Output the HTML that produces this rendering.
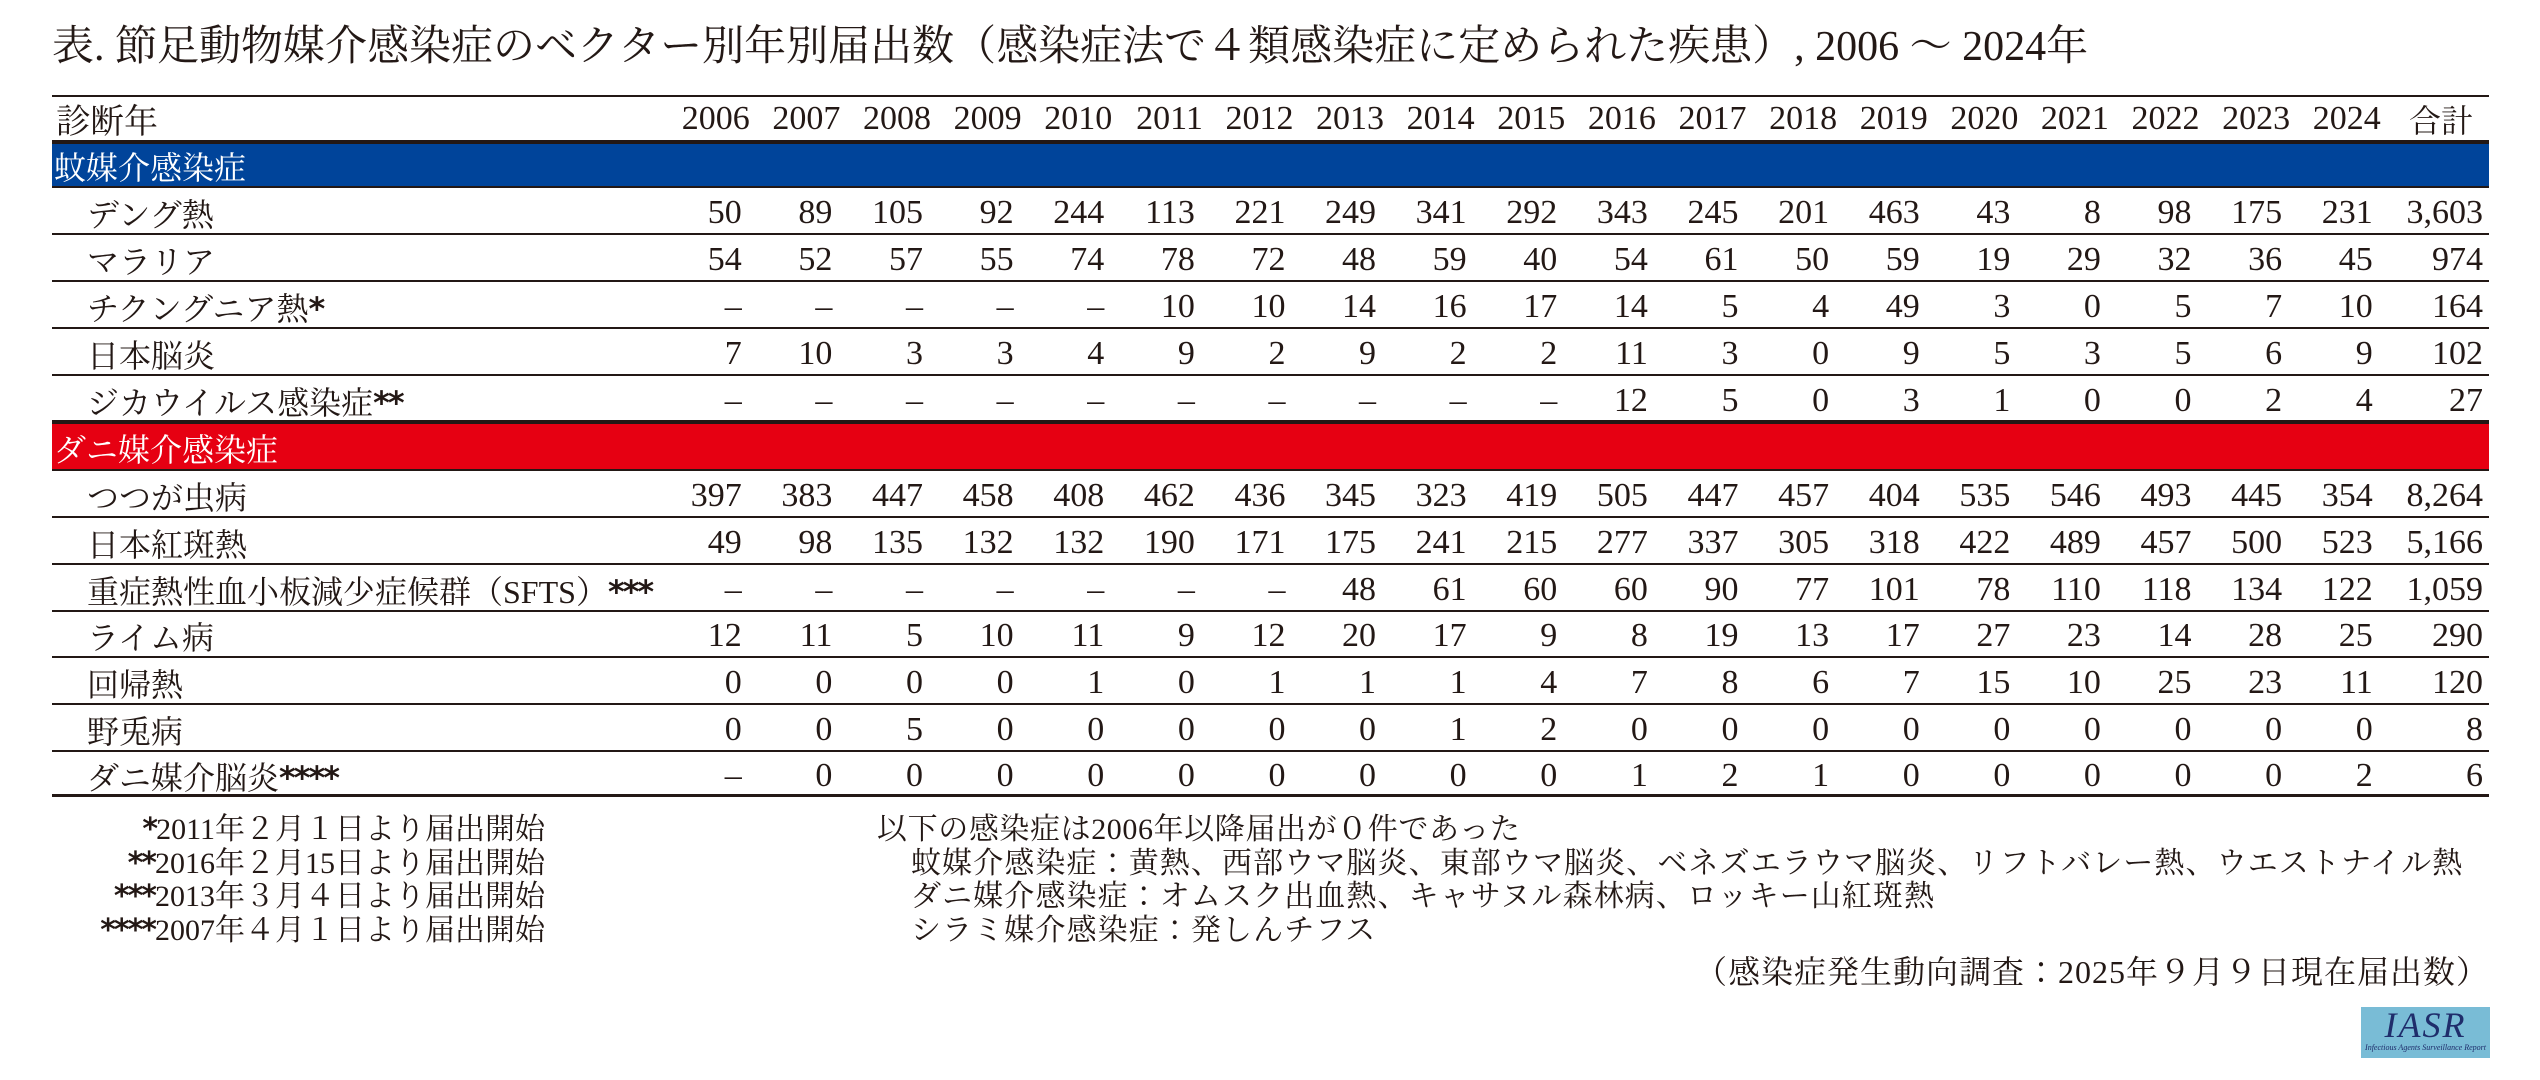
<!DOCTYPE html>
<html><head><meta charset="utf-8">
<style>
html,body{margin:0;padding:0;background:#fff;}
body{width:2540px;height:1080px;position:relative;overflow:hidden;color:#231815;
font-family:"Liberation Serif","Noto Serif CJK JP","Noto Serif CJK SC",serif;}
.title{position:absolute;left:52px;top:21px;font-size:42px;line-height:52px;white-space:nowrap;}
.ln{position:absolute;left:52px;width:2437px;background:#231815;}
.band{position:absolute;left:52px;width:2437px;}
table{position:absolute;left:52px;top:94px;border-collapse:collapse;table-layout:fixed;width:2437px;}
td{padding:0;font-size:34px;text-align:right;white-space:nowrap;overflow:visible;}
td.l{text-align:left;padding-left:35px;font-size:32px;}
td.b{text-align:left;color:#fff;font-size:32px;padding-left:2px;}
tr.h td{font-size:34px;}
tr.h td.y span{position:relative;left:8px;}
td.t{padding-right:6px;}
.fn{position:absolute;font-size:30px;line-height:33.5px;white-space:nowrap;}
.a{font-family:"DejaVu Sans",sans-serif;font-weight:bold;font-size:1.0em;letter-spacing:-2px;}
</style></head><body>
<div class="title">表. 節足動物媒介感染症のベクター別年別届出数（感染症法で４類感染症に定められた疾患）, 2006 ～ 2024年</div>

<div class="band" style="top:142px;height:45px;background:#00449a;"></div>
<div class="band" style="top:422px;height:48px;background:#e60012;"></div>

<div class="ln" style="top:95px;height:2px;"></div>
<div class="ln" style="top:140px;height:4px;"></div>
<div class="ln" style="top:186px;height:2px;"></div>
<div class="ln" style="top:233px;height:2px;"></div>
<div class="ln" style="top:280px;height:2px;"></div>
<div class="ln" style="top:327px;height:2px;"></div>
<div class="ln" style="top:374px;height:2px;"></div>
<div class="ln" style="top:420px;height:4px;"></div>
<div class="ln" style="top:469px;height:2px;"></div>
<div class="ln" style="top:516px;height:2px;"></div>
<div class="ln" style="top:563px;height:2px;"></div>
<div class="ln" style="top:610px;height:2px;"></div>
<div class="ln" style="top:656px;height:2px;"></div>
<div class="ln" style="top:703px;height:2px;"></div>
<div class="ln" style="top:750px;height:2px;"></div>
<div class="ln" style="top:794px;height:3px;"></div>

<table>
<colgroup><col style="width:599px">
<col style="width:90.6px"><col style="width:90.6px"><col style="width:90.6px"><col style="width:90.6px"><col style="width:90.6px"><col style="width:90.6px"><col style="width:90.6px"><col style="width:90.6px"><col style="width:90.6px"><col style="width:90.6px"><col style="width:90.6px"><col style="width:90.6px"><col style="width:90.6px"><col style="width:90.6px"><col style="width:90.6px"><col style="width:90.6px"><col style="width:90.6px"><col style="width:90.6px"><col style="width:90.6px">
<col style="width:116px"></colgroup>
<tr class="h" style="height:46px"><td class="l" style="padding-left:4px">診断年</td><td class="y"><span>2006</span></td><td class="y"><span>2007</span></td><td class="y"><span>2008</span></td><td class="y"><span>2009</span></td><td class="y"><span>2010</span></td><td class="y"><span>2011</span></td><td class="y"><span>2012</span></td><td class="y"><span>2013</span></td><td class="y"><span>2014</span></td><td class="y"><span>2015</span></td><td class="y"><span>2016</span></td><td class="y"><span>2017</span></td><td class="y"><span>2018</span></td><td class="y"><span>2019</span></td><td class="y"><span>2020</span></td><td class="y"><span>2021</span></td><td class="y"><span>2022</span></td><td class="y"><span>2023</span></td><td class="y"><span>2024</span></td><td class="t" style="padding-right:16px;font-size:32px">合計</td></tr>
<tr style="height:45px"><td class="b" colspan="21">蚊媒介感染症</td></tr>
<tr style="height:47px"><td class="l">デング熱</td><td>50</td><td>89</td><td>105</td><td>92</td><td>244</td><td>113</td><td>221</td><td>249</td><td>341</td><td>292</td><td>343</td><td>245</td><td>201</td><td>463</td><td>43</td><td>8</td><td>98</td><td>175</td><td>231</td><td class="t">3,603</td></tr>
<tr style="height:47px"><td class="l">マラリア</td><td>54</td><td>52</td><td>57</td><td>55</td><td>74</td><td>78</td><td>72</td><td>48</td><td>59</td><td>40</td><td>54</td><td>61</td><td>50</td><td>59</td><td>19</td><td>29</td><td>32</td><td>36</td><td>45</td><td class="t">974</td></tr>
<tr style="height:47px"><td class="l">チクングニア熱<span class="a">*</span></td><td>–</td><td>–</td><td>–</td><td>–</td><td>–</td><td>10</td><td>10</td><td>14</td><td>16</td><td>17</td><td>14</td><td>5</td><td>4</td><td>49</td><td>3</td><td>0</td><td>5</td><td>7</td><td>10</td><td class="t">164</td></tr>
<tr style="height:47px"><td class="l">日本脳炎</td><td>7</td><td>10</td><td>3</td><td>3</td><td>4</td><td>9</td><td>2</td><td>9</td><td>2</td><td>2</td><td>11</td><td>3</td><td>0</td><td>9</td><td>5</td><td>3</td><td>5</td><td>6</td><td>9</td><td class="t">102</td></tr>
<tr style="height:47px"><td class="l">ジカウイルス感染症<span class="a">**</span></td><td>–</td><td>–</td><td>–</td><td>–</td><td>–</td><td>–</td><td>–</td><td>–</td><td>–</td><td>–</td><td>12</td><td>5</td><td>0</td><td>3</td><td>1</td><td>0</td><td>0</td><td>2</td><td>4</td><td class="t">27</td></tr>
<tr style="height:48px"><td class="b" colspan="21">ダニ媒介感染症</td></tr>
<tr style="height:47px"><td class="l">つつが虫病</td><td>397</td><td>383</td><td>447</td><td>458</td><td>408</td><td>462</td><td>436</td><td>345</td><td>323</td><td>419</td><td>505</td><td>447</td><td>457</td><td>404</td><td>535</td><td>546</td><td>493</td><td>445</td><td>354</td><td class="t">8,264</td></tr>
<tr style="height:47px"><td class="l">日本紅斑熱</td><td>49</td><td>98</td><td>135</td><td>132</td><td>132</td><td>190</td><td>171</td><td>175</td><td>241</td><td>215</td><td>277</td><td>337</td><td>305</td><td>318</td><td>422</td><td>489</td><td>457</td><td>500</td><td>523</td><td class="t">5,166</td></tr>
<tr style="height:47px"><td class="l">重症熱性血小板減少症候群（SFTS）<span class="a">***</span></td><td>–</td><td>–</td><td>–</td><td>–</td><td>–</td><td>–</td><td>–</td><td>48</td><td>61</td><td>60</td><td>60</td><td>90</td><td>77</td><td>101</td><td>78</td><td>110</td><td>118</td><td>134</td><td>122</td><td class="t">1,059</td></tr>
<tr style="height:46px"><td class="l">ライム病</td><td>12</td><td>11</td><td>5</td><td>10</td><td>11</td><td>9</td><td>12</td><td>20</td><td>17</td><td>9</td><td>8</td><td>19</td><td>13</td><td>17</td><td>27</td><td>23</td><td>14</td><td>28</td><td>25</td><td class="t">290</td></tr>
<tr style="height:47px"><td class="l">回帰熱</td><td>0</td><td>0</td><td>0</td><td>0</td><td>1</td><td>0</td><td>1</td><td>1</td><td>1</td><td>4</td><td>7</td><td>8</td><td>6</td><td>7</td><td>15</td><td>10</td><td>25</td><td>23</td><td>11</td><td class="t">120</td></tr>
<tr style="height:47px"><td class="l">野兎病</td><td>0</td><td>0</td><td>5</td><td>0</td><td>0</td><td>0</td><td>0</td><td>0</td><td>1</td><td>2</td><td>0</td><td>0</td><td>0</td><td>0</td><td>0</td><td>0</td><td>0</td><td>0</td><td>0</td><td class="t">8</td></tr>
<tr style="height:44px"><td class="l">ダニ媒介脳炎<span class="a">****</span></td><td>–</td><td>0</td><td>0</td><td>0</td><td>0</td><td>0</td><td>0</td><td>0</td><td>0</td><td>0</td><td>1</td><td>2</td><td>1</td><td>0</td><td>0</td><td>0</td><td>0</td><td>0</td><td>2</td><td class="t">6</td></tr>
</table>

<div class="fn" style="left:0;width:545px;top:813px;text-align:right;"><span class="a">*</span>2011年２月１日より届出開始<br><span class="a">**</span>2016年２月15日より届出開始<br><span class="a">***</span>2013年３月４日より届出開始<br><span class="a">****</span>2007年４月１日より届出開始</div>
<div class="fn" style="left:877px;top:813px;letter-spacing:0.6px;">以下の感染症は2006年以降届出が０件であった</div>
<div class="fn" style="left:911px;top:846.5px;letter-spacing:1.1px;">蚊媒介感染症：黄熱、西部ウマ脳炎、東部ウマ脳炎、ベネズエラウマ脳炎、リフトバレー熱、ウエストナイル熱<br>ダニ媒介感染症：オムスク出血熱、キャサヌル森林病、ロッキー山紅斑熱<br>シラミ媒介感染症：発しんチフス</div>
<div class="fn" style="right:51px;top:953px;font-size:32px;line-height:38px;letter-spacing:1px;">（感染症発生動向調査：2025年９月９日現在届出数）</div>

<div style="position:absolute;left:2361px;top:1007px;width:129px;height:51px;background:#79bcd6;text-align:center;">
<div style="font-family:'Liberation Serif',serif;font-style:italic;font-size:36px;line-height:36px;color:#1f2d6b;letter-spacing:2px;">IASR</div>
<div style="font-family:'Liberation Serif',serif;font-style:italic;font-size:8px;line-height:10px;color:#1f2d6b;white-space:nowrap;">Infectious Agents Surveillance Report</div>
</div>
</body></html>
